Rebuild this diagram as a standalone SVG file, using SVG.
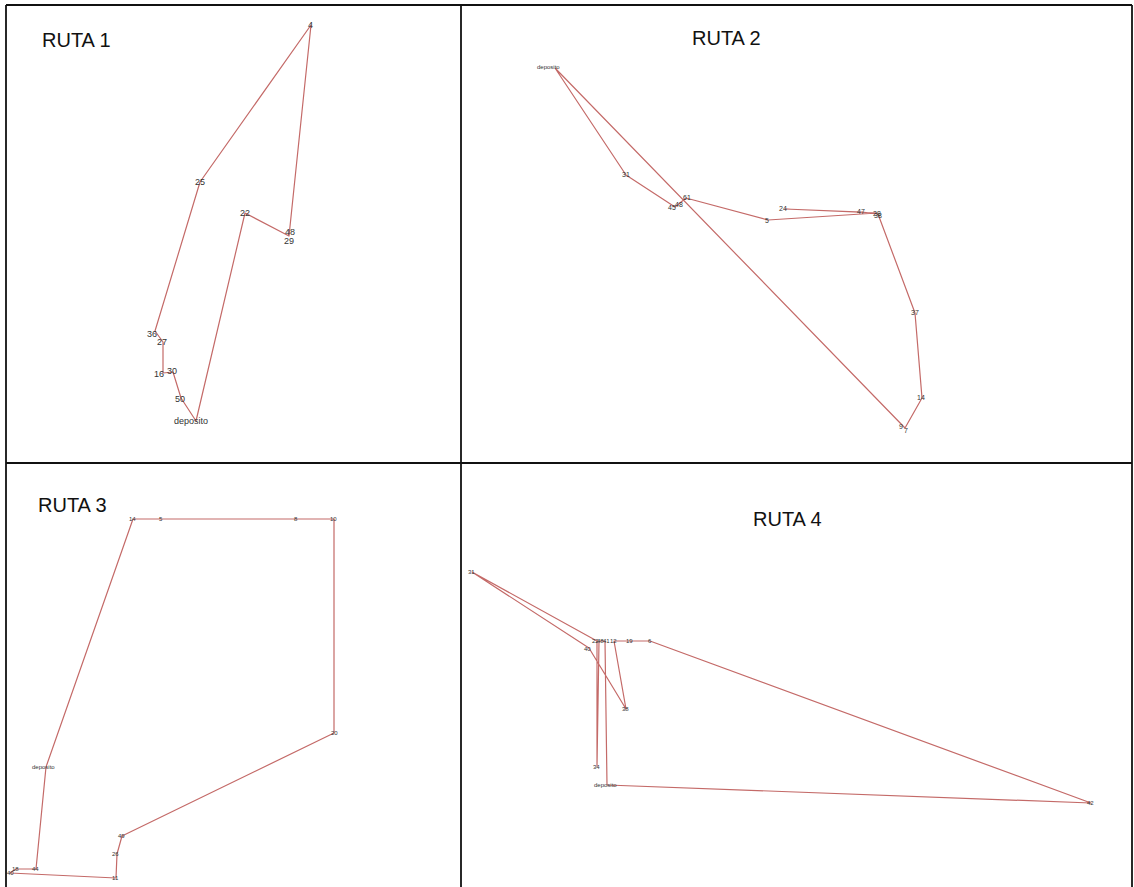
<svg xmlns="http://www.w3.org/2000/svg" width="1134" height="887" viewBox="0 0 1134 887">
<style>
.t{font-family:"Liberation Sans",Arial,sans-serif;font-size:20px;fill:#111}
.r{fill:none;stroke:#c46a68;stroke-width:1.2;stroke-linejoin:round}
.l9{font-family:"Liberation Sans",Arial,sans-serif;font-size:9px;fill:#333}
.l7{font-family:"Liberation Sans",Arial,sans-serif;font-size:7px;fill:#333}
.l6{font-family:"Liberation Sans",Arial,sans-serif;font-size:6px;fill:#333}
.b{stroke:#111;stroke-width:1.8;fill:none}
</style>
<rect width="1134" height="887" fill="#fff"/>
<g id="frame">
<line class="b" x1="6" y1="5" x2="1132" y2="5"/>
<line class="b" x1="6" y1="5" x2="6" y2="887"/>
<line class="b" x1="1132" y1="5" x2="1132" y2="887"/>
<line class="b" x1="461" y1="5" x2="461" y2="887"/>
<line class="b" x1="6" y1="463" x2="1132" y2="463"/>
</g>
<g id="connectors">
<polyline class="r" points="200,182 155,331 163,342 163,373 173,372 181,398 196,421 245,213 289,236 311,25 200,182"/>
<polyline class="r" points="555,68 626,175 675,207 686,198 768,220 877,213 785,209 862,212 878,214 915,313 922,398 905,428 555,68"/>
<polyline class="r" points="46,767 36,869 16,869 10,873 116,878 117,854 122,836 334,733 334,519 296,519 161,519 133,519 46,767"/>
<polyline class="r" points="607,785 1091,803 650,641 630,641 614,641 626,709 589,648 472,572 597,641 597,766 599,641 605,641 607,785"/>
</g>
<g id="ruta1">
<text class="t" x="42" y="47">RUTA 1</text>
<text class="l9" x="308" y="28">4</text>
<text class="l9" x="195" y="185">25</text>
<text class="l9" x="240" y="216">22</text>
<text class="l9" x="285" y="235">48</text>
<text class="l9" x="284" y="244">29</text>
<text class="l9" x="147" y="337">36</text>
<text class="l9" x="157" y="345">27</text>
<text class="l9" x="154" y="377">16</text>
<text class="l9" x="167" y="374">30</text>
<text class="l9" x="175" y="402">50</text>
<text class="l9" x="174" y="424">deposito</text>
</g>
<g id="ruta2">
<text class="t" x="692" y="45">RUTA 2</text>
<text class="l6" x="537" y="69">deposito</text>
<text class="l7" x="622" y="177">31</text>
<text class="l7" x="668" y="210">45</text>
<text class="l7" x="675" y="207">48</text>
<text class="l7" x="683" y="200">61</text>
<text class="l7" x="765" y="223">5</text>
<text class="l7" x="779" y="211">24</text>
<text class="l7" x="857" y="214">47</text>
<text class="l7" x="873" y="216">28</text>
<text class="l7" x="874" y="218">38</text>
<text class="l7" x="911" y="315">37</text>
<text class="l7" x="917" y="400">14</text>
<text class="l7" x="899" y="429">9</text>
<text class="l7" x="904" y="433">7</text>
</g>
<g id="ruta3">
<text class="t" x="38" y="512">RUTA 3</text>
<text class="l6" x="129" y="521">14</text>
<text class="l6" x="159" y="521">5</text>
<text class="l6" x="294" y="521">8</text>
<text class="l6" x="330" y="521">10</text>
<text class="l6" x="331" y="735">20</text>
<text class="l6" x="118" y="838">49</text>
<text class="l6" x="112" y="856">26</text>
<text class="l6" x="112" y="880">11</text>
<text class="l6" x="32" y="871">44</text>
<text class="l6" x="12" y="871">18</text>
<text class="l6" x="7" y="875">40</text>
<text class="l6" x="32" y="769">deposito</text>
</g>
<g id="ruta4">
<text class="t" x="753" y="526">RUTA 4</text>
<text class="l6" x="468" y="574">31</text>
<text class="l6" x="592" y="643">22</text>
<text class="l6" x="597" y="643">48</text>
<text class="l6" x="603" y="643">41</text>
<text class="l6" x="584" y="651">40</text>
<text class="l6" x="610" y="643">12</text>
<text class="l6" x="626" y="643">19</text>
<text class="l6" x="648" y="643">6</text>
<text class="l6" x="622" y="711">38</text>
<text class="l6" x="593" y="769">34</text>
<text class="l6" x="594" y="787">deposito</text>
<text class="l6" x="1087" y="805">42</text>
</g>
</svg>
